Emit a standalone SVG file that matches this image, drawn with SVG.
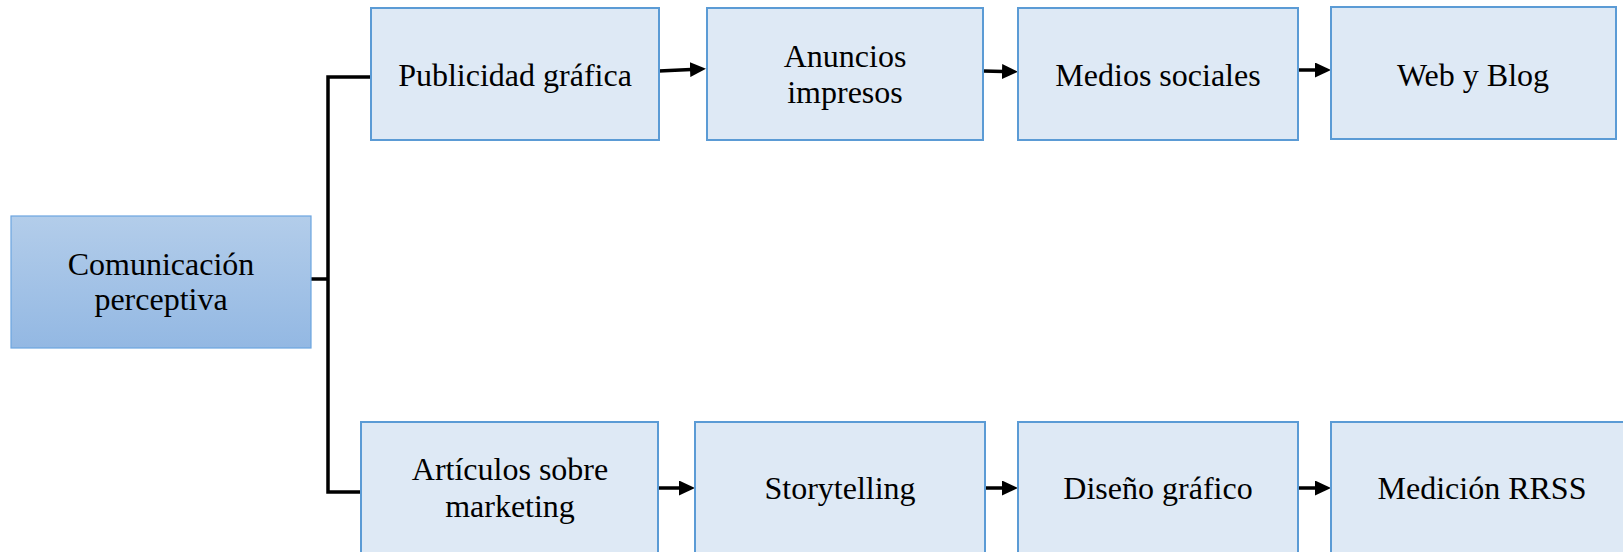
<svg xmlns="http://www.w3.org/2000/svg" width="1623" height="552" viewBox="0 0 1623 552">
<defs>
<linearGradient id="g1" x1="0" y1="0" x2="0" y2="1">
<stop offset="0" stop-color="#B3CDEA"/>
<stop offset="1" stop-color="#93B8E3"/>
</linearGradient>
<marker id="ah" markerUnits="userSpaceOnUse" markerWidth="17" markerHeight="15" refX="1" refY="7.5" orient="auto">
<path d="M0,0 L16,7.5 L0,15 Z" fill="#000"/>
</marker>
<style>
.box{fill:#DEE9F5;stroke:#5B9BD5;stroke-width:2}
.root{fill:url(#g1);stroke:#6CA5DF;stroke-width:1.2}
.t{font-family:"Liberation Serif","Times New Roman",serif;font-size:32px;fill:#000;text-anchor:middle}
.c{fill:none;stroke:#000;stroke-width:3.5}
.a{fill:none;stroke:#000;stroke-width:3.5;marker-end:url(#ah)}
</style>
</defs>
<g id="connectors">
<path class="c" d="M311,279 H328"/>
<path class="c" d="M371,77 H328 V492 H361"/>
<path class="a" d="M659,71 L691,69.5"/>
<path class="a" d="M983,71 L1003,71.5"/>
<path class="a" d="M1298,70 L1316,70"/>
<path class="a" d="M658,488 L680,488"/>
<path class="a" d="M985,488 L1003,488"/>
<path class="a" d="M1298,488 L1316,488"/>
</g>
<g id="n-comunicacion">
<rect class="root" x="11" y="216" width="300" height="132"/>
<text class="t" x="161" y="275">Comunicación</text>
<text class="t" x="161" y="310">perceptiva</text>
</g>
<g id="n-publicidad">
<rect class="box" x="371" y="8" width="288" height="132"/>
<text class="t" x="515" y="86">Publicidad gráfica</text>
</g>
<g id="n-anuncios">
<rect class="box" x="707" y="8" width="276" height="132"/>
<text class="t" x="845" y="67">Anuncios</text>
<text class="t" x="845" y="103">impresos</text>
</g>
<g id="n-medios">
<rect class="box" x="1018" y="8" width="280" height="132"/>
<text class="t" x="1158" y="86">Medios sociales</text>
</g>
<g id="n-web">
<rect class="box" x="1331" y="7" width="285" height="132"/>
<text class="t" x="1473" y="86">Web y Blog</text>
</g>
<g id="n-articulos">
<rect class="box" x="361" y="422" width="297" height="140"/>
<text class="t" x="510" y="480">Artículos sobre</text>
<text class="t" x="510" y="517">marketing</text>
</g>
<g id="n-storytelling">
<rect class="box" x="695" y="422" width="290" height="140"/>
<text class="t" x="840" y="499">Storytelling</text>
</g>
<g id="n-diseno">
<rect class="box" x="1018" y="422" width="280" height="140"/>
<text class="t" x="1158" y="499">Diseño gráfico</text>
</g>
<g id="n-medicion">
<rect class="box" x="1331" y="422" width="302" height="140"/>
<text class="t" x="1482" y="499">Medición RRSS</text>
</g>
</svg>
